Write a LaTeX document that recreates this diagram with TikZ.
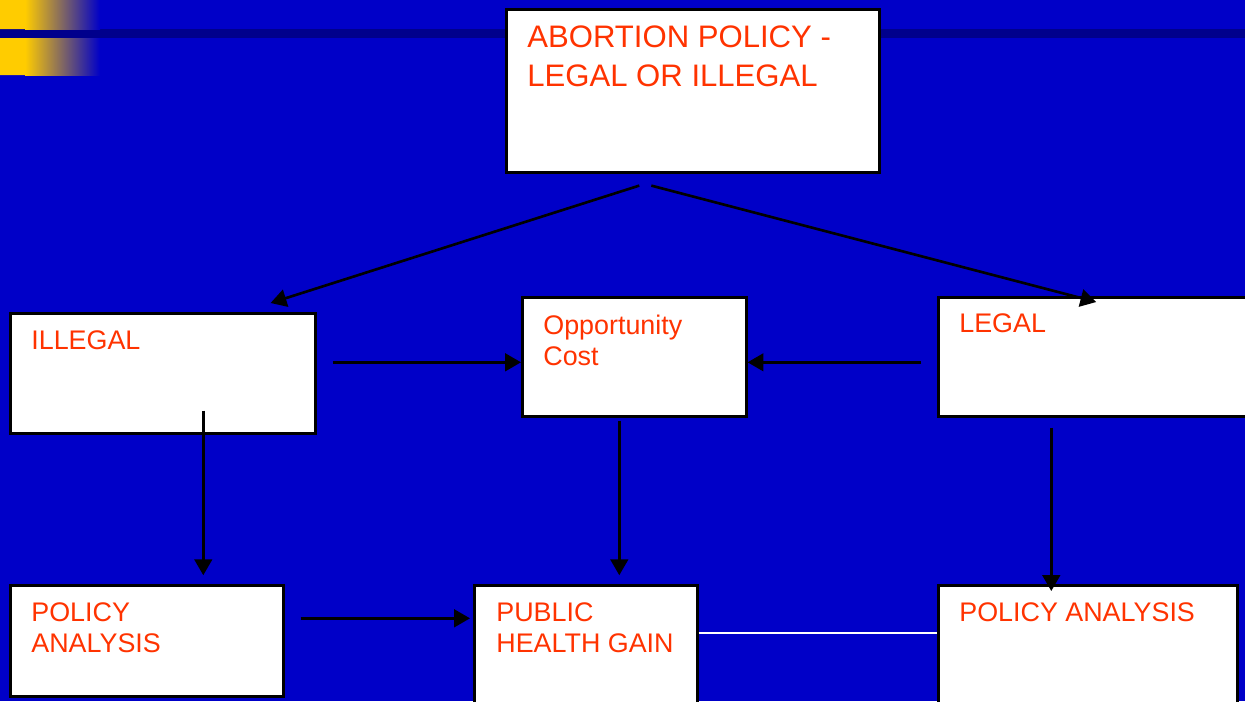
\documentclass[tikz,border=0pt]{standalone}
\usepackage{fontspec}
\setmainfont{Liberation Sans}
\usetikzlibrary{calc,positioning,arrows.meta}
\definecolor{slideblue}{RGB}{0,0,200}
\definecolor{bandblue}{RGB}{0,0,140}
\definecolor{slideyellow}{RGB}{255,204,0}
\definecolor{boxred}{RGB}{255,51,0}
\begin{document}
\begin{tikzpicture}[x=0.02cm, y=-0.02cm,
    box/.style={draw=black, line width=1.5pt, fill=white, anchor=north west, inner sep=0},
    txt/.style={anchor=north west, inner sep=0, align=left, text=boxred,
      font=\fontsize{15.3}{17.6}\selectfont},
    bigtxt/.style={txt, font=\fontsize{17.7}{22.7}\selectfont},
    arr/.style={-{Triangle[length=9pt,width=10pt]}, line width=1.5pt}]
  % slide background
  \path[use as bounding box, fill=slideblue] (0,0) rectangle (1245,701);
  \fill[bandblue] (0,29) rectangle (1245,38);
  \fill[slideyellow] (0,0) rectangle (25,29) (0,38) rectangle (25,75);
  \shade[left color=slideyellow, right color=slideblue] (25,0) rectangle (100,29);
  \shade[left color=slideyellow, right color=slideblue] (25,38) rectangle (100,75);

  % boxes
  \node[box, minimum width=7.46cm, minimum height=3.26cm] (top) at (505,8) {};
  \node[box, minimum width=6.10cm, minimum height=2.40cm] (illegal) at (9,312) {};
  \node[box, minimum width=4.48cm, minimum height=2.38cm] (opp) at (521,296) {};
  \node[box, minimum width=6.36cm, minimum height=2.38cm] (legal) at (937,296) {};
  \node[box, minimum width=5.46cm, minimum height=2.22cm] (pal) at (9,584) {};
  \node[box, minimum width=4.46cm, minimum height=2.60cm] (phg) at (473,584) {};
  \node[box, minimum width=5.98cm, minimum height=2.60cm] (par) at (937,584) {};

  \node[bigtxt] (toptxt) at ($(top.north west)+(22,17)$) {ABORTION POLICY -\\LEGAL OR ILLEGAL};
  \node[txt] (illegaltxt) at ($(illegal.north west)+(22,18)$) {ILLEGAL};
  \node[txt] (opptxt) at ($(opp.north west)+(22,19)$) {Opportunity\\Cost};
  \node[txt] (legaltxt) at ($(legal.north west)+(22,17)$) {LEGAL};
  \node[txt] (paltxt) at ($(pal.north west)+(22,18)$) {POLICY\\ANALYSIS};
  \node[txt] (phgtxt) at ($(phg.north west)+(23,18)$) {PUBLIC\\HEALTH GAIN};
  \node[txt] (partxt) at ($(par.north west)+(22,18)$) {POLICY ANALYSIS};

  % connectors
  \draw[arr] ($(top.south)+(-53.5,12)$) -- ($(illegal.north east)+(-46,-9)$);
  \draw[arr] ($(top.south)+(-41.5,12)$) -- ($(legal.north)+(-1,6)$);
  \draw[arr] ($(illegal.east)+(16,-11)$) coordinate (i2o) -- (i2o -| opp.west);
  \draw[arr] ($(legal.west)+(-16,5.5)$) coordinate (l2o) -- (l2o -| opp.east);
  \draw[arr, shorten >=5pt] ($(illegal.south)+(40.5,-24)$) coordinate (i2p) -- (i2p |- pal.north);
  \draw[arr, shorten >=5pt] ($(opp.south)+(-15,3)$) coordinate (o2g) -- (o2g |- phg.north);
  \draw[arr, shorten >=-4pt] ($(legal.south)+(-46,10)$) coordinate (l2p) -- (l2p |- par.north);
  \draw[arr, shorten >=1.7pt] ($(pal.east)+(16,-22.5)$) coordinate (p2g) -- (p2g -| phg.west);
  \draw[white, line width=1.2pt] ($(phg.east)+(0,-17)$) coordinate (g2p) -- (g2p -| par.west);
\end{tikzpicture}
\end{document}
